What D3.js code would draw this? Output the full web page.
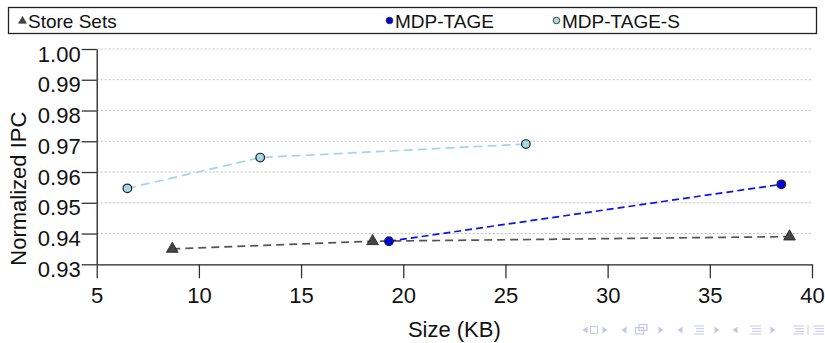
<!DOCTYPE html>
<html>
<head>
<meta charset="utf-8">
<script src="https://cdn.jsdelivr.net/npm/d3@7"></script>
<style>
  html, body { margin: 0; padding: 0; background: #fff; }
  svg { display: block; }
  text { font-family: "Liberation Sans", Arial, Helvetica, sans-serif; fill: #111; }
</style>
</head>
<body>
<svg id="chart" width="825" height="343"></svg>
<script>
// Predictor storage size (KB) and normalized IPC per configuration
const storeSetsSize = [8.7, 18.5, 38.9];
const storeSetsIPC  = [0.935, 0.9375, 0.939];
const mdpTageSize   = [19.3, 38.5];
const mdpTageIPC    = [0.9375, 0.956];
const mdpTageSSize  = [6.5, 13.0, 26.0];
const mdpTageSIPC   = [0.9547, 0.9647, 0.9691];

const xTicks = [5, 10, 15, 20, 25, 30, 35, 40];
const yTicks = [0.93, 0.94, 0.95, 0.96, 0.97, 0.98, 0.99, 1.00];
const legendNames = ["Store Sets", "MDP-TAGE", "MDP-TAGE-S"];

const svg = d3.select("#chart");
const x = d3.scaleLinear().domain([5, 40]).range([96.7, 812]);
const y = d3.scaleLinear().domain([0.93, 1.00]).range([264.3, 49]);

// dotted horizontal grid
svg.append("g").selectAll("line")
  .data(yTicks.filter(d => d > 0.93))
  .join("line")
  .attr("x1", x(5)).attr("x2", x(40))
  .attr("y1", d => y(d)).attr("y2", d => y(d))
  .attr("stroke", "#bdbdbd").attr("stroke-width", 1)
  .attr("stroke-dasharray", "2,2");

// axes
const yAxis = svg.append("g")
  .attr("transform", `translate(${x(5)},0)`)
  .call(d3.axisLeft(y).tickValues(yTicks).tickFormat(d3.format(".2f"))
    .tickSize(15).tickSizeOuter(0).tickPadding(1));
yAxis.selectAll("text").attr("dy", "0.55em").style("font-size", "22px");

const xAxis = svg.append("g")
  .attr("transform", `translate(0,${y(0.93)})`)
  .call(d3.axisBottom(x).tickValues(xTicks).tickFormat(d3.format("d"))
    .tickSize(14).tickSizeOuter(0).tickPadding(9));
xAxis.selectAll("text").style("font-size", "22px");

[yAxis, xAxis].forEach(g => {
  g.selectAll("path.domain").attr("stroke", "#222").attr("stroke-width", 1.3);
  g.selectAll(".tick line").attr("stroke", "#333").attr("stroke-width", 1.3);
  g.selectAll("text").attr("fill", "#111").style("font-family", "Liberation Sans, Arial, sans-serif");
});

// axis titles
svg.append("text")
  .attr("x", (x(5) + x(40)) / 2).attr("y", 337)
  .attr("text-anchor", "middle").style("font-size", "22px")
  .text("Size (KB)");
svg.append("text")
  .attr("transform", `translate(26,${(y(0.93) + y(1.0)) / 2 + 32}) rotate(-90)`)
  .attr("text-anchor", "middle").style("font-size", "22px")
  .text("Normalized IPC");

const line = d3.line().x(d => x(d[0])).y(d => y(d[1]));
const series = [
  { size: storeSetsSize, ipc: storeSetsIPC, color: "#555555", dash: "8,5", shape: "tri", fill: "#444444" },
  { size: mdpTageSize, ipc: mdpTageIPC, color: "#1010ee", dash: "7,4", shape: "circle", fill: "#0000e8" },
  { size: mdpTageSSize, ipc: mdpTageSIPC, color: "#a4d4e6", dash: "9,5", shape: "circle", fill: "#a8d8e6" }
];

series.forEach(s => {
  const pts = s.size.map((v, i) => [v, s.ipc[i]]);
  svg.append("path")
    .attr("d", line(pts))
    .attr("fill", "none").attr("stroke", s.color)
    .attr("stroke-width", 1.7).attr("stroke-dasharray", s.dash);
});

series.forEach(s => {
  const pts = s.size.map((v, i) => [v, s.ipc[i]]);
  if (s.shape === "tri") {
    svg.append("g").selectAll("path").data(pts).join("path")
      .attr("d", d3.symbol(d3.symbolTriangle, 60))
      .attr("transform", d => `translate(${x(d[0])},${y(d[1])})`)
      .attr("fill", s.fill).attr("stroke", "#222").attr("stroke-width", 0.8);
  } else {
    svg.append("g").selectAll("circle").data(pts).join("circle")
      .attr("cx", d => x(d[0])).attr("cy", d => y(d[1])).attr("r", 4.3)
      .attr("fill", s.fill).attr("stroke", "#222").attr("stroke-width", 1.2);
  }
});

// legend
svg.append("rect")
  .attr("x", 8.5).attr("y", 7.5).attr("width", 808).attr("height", 26)
  .attr("fill", "#fff").attr("stroke", "#222").attr("stroke-width", 1.3);

const legendPos = [
  { mx: 22.5, tx: 28 },
  { mx: 389.5, tx: 395 },
  { mx: 556.5, tx: 562 }
];
legendNames.forEach((name, i) => {
  const s = series[i], p = legendPos[i];
  if (s.shape === "tri") {
    svg.append("path").attr("d", d3.symbol(d3.symbolTriangle, 26))
      .attr("transform", `translate(${p.mx},21)`)
      .attr("fill", s.fill).attr("stroke", "#222").attr("stroke-width", 0.6);
  } else {
    svg.append("circle").attr("cx", p.mx).attr("cy", 20.5).attr("r", 3.3)
      .attr("fill", s.fill).attr("stroke", "#222").attr("stroke-width", 0.8);
  }
  svg.append("text").attr("x", p.tx).attr("y", 28)
    .style("font-size", "19px").text(name);
});

// navigation symbols in the lower right corner
const nav = svg.append("g").attr("fill", "#c6c6ea").attr("stroke", "#c6c6ea");
const navY = 330;
function triL(cx) {
  nav.append("path").attr("stroke", "none")
    .attr("d", `M${cx + 2.5},${navY - 3.5} L${cx - 2.5},${navY} L${cx + 2.5},${navY + 3.5} Z`);
}
function triR(cx) {
  nav.append("path").attr("stroke", "none")
    .attr("d", `M${cx - 2.5},${navY - 3.5} L${cx + 2.5},${navY} L${cx - 2.5},${navY + 3.5} Z`);
}
function bars(x0, w) {
  [-4, -1.3, 1.3, 4].forEach((dy, k) => {
    const inset = (k === 1 || k === 2) ? 2 : 0;
    nav.append("line").attr("stroke-width", 1)
      .attr("x1", x0 + inset).attr("x2", x0 + w).attr("y1", navY + dy).attr("y2", navY + dy);
  });
}
// slide
triL(585); nav.append("rect").attr("fill", "none").attr("stroke-width", 1)
  .attr("x", 590.5).attr("y", navY - 3.5).attr("width", 7).attr("height", 7); triR(605);
// frame
triL(624);
nav.append("rect").attr("fill", "none").attr("stroke-width", 1.2)
  .attr("x", 635.5).attr("y", navY - 2.5).attr("width", 8).attr("height", 6.5);
nav.append("rect").attr("fill", "none").attr("stroke-width", 1.2)
  .attr("x", 639).attr("y", navY - 5.5).attr("width", 8).attr("height", 6);
triR(661);
// subsection
triL(680); bars(694, 10); triR(717);
// section
triL(735); bars(750, 11); triR(773);
// appendix / search
bars(793, 11);
nav.append("line").attr("stroke-width", 1).attr("x1", 808).attr("x2", 808).attr("y1", navY - 5).attr("y2", navY + 5);
bars(813, 11);
</script>
</body>
</html>
